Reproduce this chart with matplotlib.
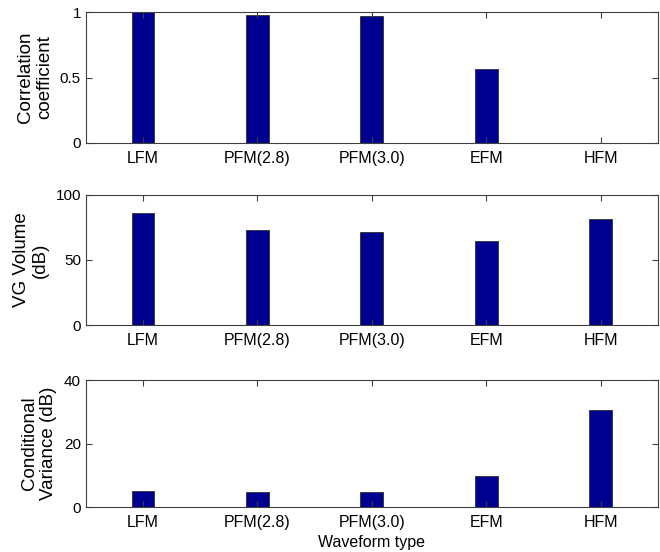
import matplotlib
matplotlib.use("Agg")
from matplotlib import pyplot as plt

# waveform categories and measured values per panel
waveforms = ["LFM", "PFM(2.8)", "PFM(3.0)", "EFM", "HFM"]
corr_coef = [1.0, 0.98, 0.972, 0.567, 0.003]
vg_volume = [85.8, 73.1, 71.8, 64.7, 81.7]
cond_var = [4.9, 4.6, 4.6, 9.8, 30.5]

panels = [
    (corr_coef, "Correlation\ncoefficient", (0, 1), [0, 0.5, 1], ["0", "0.5", "1"]),
    (vg_volume, "VG Volume\n(dB)", (0, 100), [0, 50, 100], ["0", "50", "100"]),
    (cond_var, "Conditional\nVariance (dB)", (0, 40), [0, 20, 40], ["0", "20", "40"]),
]

plt.rcParams["font.family"] = ["Liberation Sans", "DejaVu Sans"]
plt.rcParams["font.size"] = 11

fig = plt.figure(figsize=(6.6, 5.52), dpi=100)
boxes = [
    [0.130, 0.741, 0.867, 0.237],
    [0.130, 0.411, 0.867, 0.236],
    [0.130, 0.0815, 0.867, 0.230],
]

x = list(range(1, len(waveforms) + 1))
for box, (vals, label, ylim, yt, ytl) in zip(boxes, panels):
    ax = fig.add_axes(box)
    ax.bar(x, vals, width=0.2, color="#000090", edgecolor="#303030", linewidth=0.6)
    ax.set_xlim(0.5, 5.5)
    ax.set_ylim(*ylim)
    ax.set_xticks(x)
    ax.set_xticklabels(waveforms, fontsize=11.5)
    ax.set_yticks(yt)
    ax.set_yticklabels(ytl, fontsize=11)
    ax.tick_params(direction="in", top=True, right=True, length=4,
                   color="#404040")
    ax.tick_params(axis="x", pad=6)
    for s in ax.spines.values():
        s.set_color("#404040")
        s.set_linewidth(0.8)
    ax.set_ylabel(label, fontsize=13.5, labelpad=5, linespacing=1.15)

ax.set_xlabel("Waveform type", fontsize=11.5, labelpad=3)

fig.savefig("out.png", dpi=100)
